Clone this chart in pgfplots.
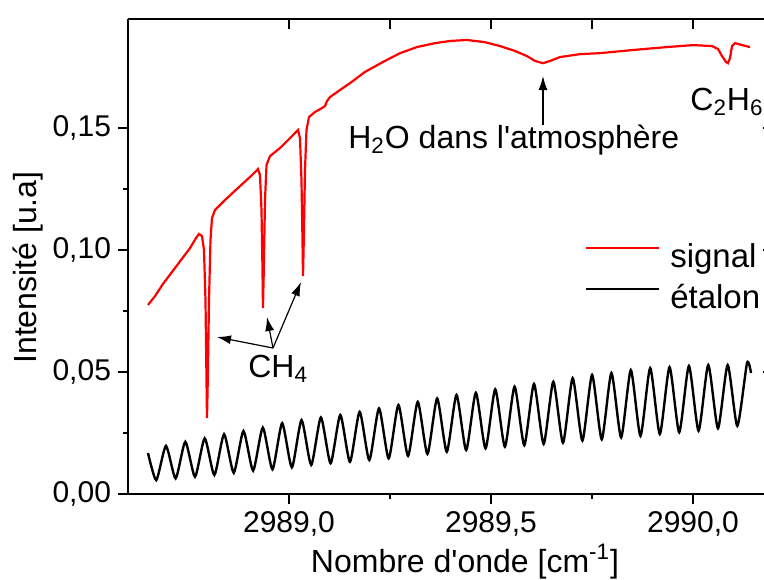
\documentclass[border=0pt]{standalone}
\usepackage{fontspec}
\setmainfont{Liberation Sans}[Ligatures=TeXOff]
\usepackage{pgfplots}
\pgfplotsset{compat=1.18}
\usetikzlibrary{arrows.meta}

\pgfplotstableread{
x y
2988.6510 0.0775
2988.6683 0.0811
2988.6881 0.0861
2988.7104 0.0910
2988.7327 0.0959
2988.7550 0.1008
2988.7698 0.1049
2988.7772 0.1066
2988.7847 0.1057
2988.7896 0.1000
2988.7933 0.0795
2988.7958 0.0467
2988.7970 0.0311
2988.7990 0.0467
2988.8020 0.0795
2988.8057 0.1041
2988.8094 0.1131
2988.8168 0.1164
2988.8416 0.1205
2988.8787 0.1262
2988.9084 0.1307
2988.9233 0.1332
2988.9282 0.1307
2988.9319 0.1164
2988.9344 0.0918
2988.9356 0.0762
2988.9376 0.0918
2988.9406 0.1205
2988.9443 0.1348
2988.9530 0.1385
2988.9777 0.1418
2989.0074 0.1467
2989.0223 0.1492
2989.0272 0.1459
2989.0309 0.1287
2989.0334 0.1041
2989.0347 0.0893
2989.0366 0.1041
2989.0396 0.1328
2989.0433 0.1492
2989.0495 0.1545
2989.0644 0.1566
2989.0817 0.1582
2989.0891 0.1590
2989.0941 0.1611
2989.1015 0.1627
2989.1262 0.1656
2989.1510 0.1684
2989.1881 0.1730
2989.2327 0.1771
2989.2748 0.1807
2989.3168 0.1832
2989.3614 0.1848
2989.3985 0.1857
2989.4406 0.1861
2989.4851 0.1852
2989.5223 0.1836
2989.5594 0.1816
2989.5891 0.1795
2989.6089 0.1775
2989.6287 0.1766
2989.6460 0.1775
2989.6708 0.1791
2989.7203 0.1803
2989.7698 0.1807
2989.8515 0.1820
2989.9356 0.1832
2990.0000 0.1840
2990.0470 0.1836
2990.0619 0.1824
2990.0718 0.1795
2990.0817 0.1771
2990.0866 0.1766
2990.0916 0.1787
2990.0965 0.1836
2990.1040 0.1848
2990.1213 0.1840
2990.1411 0.1832
}\signal

\pgfplotstableread{
x y
2988.6510 0.0168
2988.6715 0.0057
2988.6955 0.0197
2988.7194 0.0064
2988.7434 0.0214
2988.7674 0.0071
2988.7914 0.0228
2988.8153 0.0078
2988.8393 0.0245
2988.8633 0.0087
2988.8873 0.0258
2988.9112 0.0096
2988.9352 0.0272
2988.9591 0.0101
2988.9831 0.0290
2989.0071 0.0109
2989.0311 0.0303
2989.0550 0.0119
2989.0790 0.0314
2989.1030 0.0126
2989.1270 0.0324
2989.1509 0.0132
2989.1749 0.0337
2989.1988 0.0139
2989.2228 0.0351
2989.2468 0.0146
2989.2708 0.0365
2989.2947 0.0156
2989.3187 0.0378
2989.3427 0.0164
2989.3667 0.0392
2989.3906 0.0173
2989.4146 0.0406
2989.4385 0.0180
2989.4625 0.0415
2989.4865 0.0187
2989.5105 0.0429
2989.5344 0.0194
2989.5584 0.0440
2989.5824 0.0200
2989.6064 0.0451
2989.6303 0.0205
2989.6543 0.0460
2989.6782 0.0210
2989.7022 0.0475
2989.7262 0.0219
2989.7502 0.0488
2989.7741 0.0224
2989.7981 0.0496
2989.8221 0.0232
2989.8461 0.0508
2989.8700 0.0238
2989.8940 0.0516
2989.9179 0.0246
2989.9419 0.0520
2989.9659 0.0253
2989.9899 0.0525
2990.0138 0.0259
2990.0378 0.0529
2990.0618 0.0269
2990.0858 0.0529
2990.1097 0.0279
2990.1337 0.0537
2990.1436 0.0496
}\etalon

\begin{document}
\begin{tikzpicture}
\pgfplotsset{
  common/.style={
    scale only axis, width=322.5pt, height=237.5pt,
    xmin=2988.6015, xmax=2990.198, ymin=0, ymax=0.1947,
    xtick={2989,2989.5,2990}, ytick={0,0.05,0.1,0.15},
    minor x tick num=1,
    axis line style={line width=1.2pt, black},
    tick style={line width=1.2pt, black},
  }
}
\begin{axis}[common, name=ax, minor y tick num=1,
  axis x line*=bottom, axis y line*=left, tick align=outside,
  major tick length=5pt, minor tick length=2.5pt,
  clip=false,
  /pgf/number format/assume math mode=true,
  tick label style={font=\fontsize{15}{18}\selectfont},
  x tick label style={/pgf/number format/.cd, use comma, fixed, fixed zerofill, precision=1, 1000 sep={}, /tikz/.cd},
  y tick label style={/pgf/number format/.cd, use comma, fixed, fixed zerofill, precision=2, /tikz/.cd},
  xlabel={Nombre d'onde [cm\textsuperscript{-1}]},
  ylabel={Intensité [u.a]},
  label style={font=\fontsize{16}{19}\selectfont},
  xlabel style={at={(rel axis cs:0.5225,-0.1642)}, anchor=base},
  ylabel style={at={(rel axis cs:-0.1411,0.4768)}, anchor=base},
  legend style={draw=none, fill=none, inner sep=0pt,
    at={(axis cs:2989.7313,0.1029)}, anchor=north west,
    font=\fontsize{16.5}{19}\selectfont,
    nodes={inner sep=0pt, text height=12pt, text depth=3.5pt},
    row sep=5pt, column sep=5pt},
  legend cell align=left,
  legend image code/.code={\draw[#1] (0pt,5.5pt) -- (36.5pt,5.5pt);},
]
\addplot[red, line width=1.1pt] table[x=x,y=y] {\signal};
\addlegendentry{signal}
\addplot[black, line width=1.2pt, smooth, tension=0.38] table[x=x,y=y] {\etalon};
\addlegendentry{étalon}

\draw[-{Latex[length=7pt,width=4.5pt]}, line width=0.6pt] (axis cs:2988.9604,0.05984) -- (axis cs:2988.8218,0.06434);
\draw[-{Latex[length=7pt,width=4.5pt]}, line width=0.6pt] (axis cs:2988.9604,0.05984) -- (axis cs:2988.9455,0.07254);
\draw[-{Latex[length=7pt,width=4.5pt]}, line width=0.6pt] (axis cs:2988.9604,0.05984) -- (axis cs:2989.0297,0.08689);
\draw[-{Latex[length=7pt,width=4.5pt]}, line width=0.6pt] (axis cs:2989.6287,0.1512) -- (axis cs:2989.6287,0.1713);
\node[anchor=base west, inner sep=0pt, font=\fontsize{16}{19}\selectfont] at (axis cs:2988.8985,0.04795) {CH\textsubscript{4}};
\node[anchor=base west, inner sep=0pt, font=\fontsize{16}{19}\selectfont] at (axis cs:2989.146,0.1418) {H\textsubscript{2}O dans l'atmosphère};
\node[anchor=base west, inner sep=0pt, font=\fontsize{16}{19}\selectfont] at (axis cs:2989.9926,0.1574) {C\textsubscript{2}H\textsubscript{6}};
\end{axis}
\begin{axis}[common, minor y tick num=0,
  axis x line*=top, axis y line*=right, tick align=inside,
  major tick length=5pt, minor tick length=5pt,
  xticklabels={}, yticklabels={},
]
\end{axis}
\pgfresetboundingbox
\path[use as bounding box] ([xshift=-64pt,yshift=-42.5pt]ax.south west) rectangle ([xshift=-4.5pt,yshift=9.5pt]ax.north east);
\end{tikzpicture}
\end{document}
